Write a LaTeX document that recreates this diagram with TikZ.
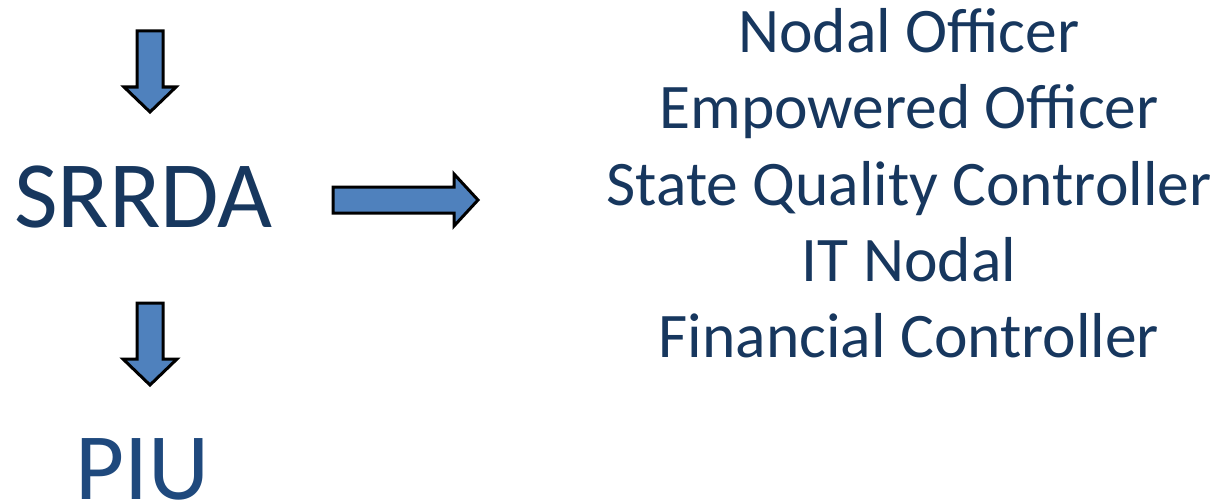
\documentclass[tikz,border=0pt]{standalone}
\usepackage{fontspec}
\setmainfont{Carlito}
\definecolor{navy}{HTML}{17375E}
\definecolor{piublue}{HTML}{1F497D}
\definecolor{arrowfill}{HTML}{4F81BD}
\begin{document}
\begin{tikzpicture}[x=1pt,y=-1pt,
  blockarrow/.style={draw=black,fill=arrowfill,line width=3pt,line join=miter},
  bigtext/.style={anchor=base,inner sep=0pt,font=\fontsize{95}{114}\selectfont},
  roletext/.style={anchor=base,inner sep=0pt,text=navy,font=\fontsize{63.5}{76}\selectfont}]
\useasboundingbox (0,0) rectangle (1221,503);

% unit labels
\node[bigtext,text=navy] (srrda) at (143.5,227) {SRRDA};
\node[bigtext,text=piublue] (piu) at (142.5,499) {PIU};

% officers of the unit
\node[roletext] (nodal) at (909,52.5) {Nodal Officer};
\node[roletext] (empowered) at (909,128.8) {Empowered Officer};
\node[roletext] (sqc) at (909,205) {State Quality Controller};
\node[roletext] (itnodal) at (909,281.3) {IT Nodal};
\node[roletext] (financial) at (909,357.6) {Financial Controller};

% block arrows
\draw[blockarrow] (137,31) -- (163,31) -- (163,87) -- (176,87) -- (150,112)
  -- (124,87) -- (137,87) -- cycle;
\draw[blockarrow] (137,303) -- (163,303) -- (163,359) -- (177,359) -- (150,385)
  -- (123,359) -- (137,359) -- cycle;
\draw[blockarrow] (333,187) -- (454,187) -- (454,174) -- (478,200) -- (454,226)
  -- (454,213) -- (333,213) -- cycle;
\end{tikzpicture}
\end{document}
